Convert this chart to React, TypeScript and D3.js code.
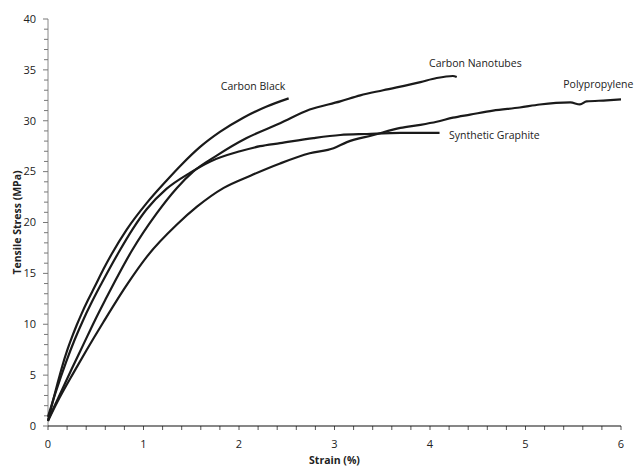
import * as d3 from 'd3';

// strain (%) / tensile stress (MPa)
const carbonBlackX = [0, 0.05, 0.1, 0.15, 0.2, 0.25, 0.3, 0.35, 0.42, 0.49, 0.58, 0.667, 0.824, 1.033, 1.24, 1.4, 1.59, 1.8, 2.045, 2.29, 2.52];
const carbonBlackY = [0.5, 2.4, 4.2, 5.9, 7.4, 8.7, 9.9, 11.0, 12.4, 13.7, 15.4, 16.9, 19.3, 21.9, 24.1, 25.7, 27.4, 28.9, 30.3, 31.4, 32.2];

const graphiteX = [0, 0.08, 0.19, 0.28, 0.363, 0.46, 0.56, 0.736, 0.89, 1.033, 1.24, 1.49, 1.7, 2.01, 2.22, 2.43, 2.78, 3.06, 3.34, 3.69, 4.1];
const graphiteY = [0.9, 3.3, 6.3, 8.5, 10.3, 12.2, 14.0, 17.0, 19.4, 21.3, 23.3, 24.9, 26.0, 27.0, 27.5, 27.8, 28.3, 28.6, 28.7, 28.8, 28.8];

const nanotubesX = [0, 0.1, 0.248, 0.37, 0.492, 0.6, 0.7, 0.876, 1.138, 1.35, 1.52, 1.77, 2.08, 2.43, 2.74, 3.06, 3.27, 3.51, 3.9, 4.07, 4.24, 4.28];
const nanotubesY = [0.6, 2.6, 5.6, 8.0, 10.4, 12.4, 14.2, 17.2, 20.9, 23.4, 25.0, 26.6, 28.3, 29.75, 31.1, 31.9, 32.5, 33.0, 33.8, 34.2, 34.4, 34.3];

const polypropyleneX = [0, 0.1, 0.265, 0.4, 0.579, 0.82, 1.04, 1.35, 1.56, 1.84, 2.12, 2.43, 2.74, 2.99, 3.13, 3.41, 3.69, 3.9, 4.07, 4.24, 4.42, 4.66, 4.94, 5.15, 5.47, 5.57, 5.64, 5.85, 6.0];
const polypropyleneY = [0.5, 2.4, 5.2, 7.4, 10.2, 13.8, 16.7, 19.8, 21.55, 23.4, 24.6, 25.8, 26.8, 27.3, 27.9, 28.6, 29.3, 29.6, 29.9, 30.3, 30.6, 31.0, 31.3, 31.6, 31.8, 31.6, 31.9, 32.0, 32.1];

const seriesNames = ['Carbon Black', 'Synthetic Graphite', 'Carbon Nanotubes', 'Polypropylene'];
// label anchor in data units (strain, stress)
const labelX = [1.81, 4.2, 3.99, 6.13];
const labelY = [33.0, 28.2, 35.3, 33.2];
const labelAnchor = ['start', 'start', 'start', 'end'];

const xTicks = [0, 1, 2, 3, 4, 5, 6];
const yTicks = [0, 5, 10, 15, 20, 25, 30, 35, 40];

const W = 635;
const H = 466;
const margin = { top: 19, right: 14, bottom: 40, left: 48 };
const font = "'Open Sans', 'Noto Sans', sans-serif";

export default function App() {
  const x = d3.scaleLinear().domain([0, 6]).range([margin.left, W - margin.right]);
  const y = d3.scaleLinear().domain([0, 40]).range([H - margin.bottom, margin.top]);

  const series = [
    d3.zip(carbonBlackX, carbonBlackY),
    d3.zip(graphiteX, graphiteY),
    d3.zip(nanotubesX, nanotubesY),
    d3.zip(polypropyleneX, polypropyleneY),
  ];

  const line = d3
    .line<number[]>()
    .x(d => x(d[0]))
    .y(d => y(d[1]))
    .curve(d3.curveMonotoneX);

  const xMinor = d3.range(0, 6.0001, 0.2);
  const yMinor = d3.range(0, 41, 1);
  const x0 = x(0);
  const y0 = y(0);

  return (
    <svg width={W} height={H} style={{ position: 'absolute', left: 0, top: 0, background: '#fff' }} fontFamily={font}>
      {/* y axis */}
      <line x1={x0} x2={x0} y1={y(40)} y2={y0} stroke="#888" strokeWidth={1} />
      {yMinor.map(v => (
        <line key={'ym' + v} x1={x0 - (v % 5 === 0 ? 5 : 4)} x2={x0} y1={y(v)} y2={y(v)} stroke="#777" strokeWidth={1} />
      ))}
      {yTicks.map(v => (
        <text key={'yt' + v} x={x0 - 12} y={y(v)} dy="0.35em" textAnchor="end" fontSize={11} fill="#222">
          {v}
        </text>
      ))}

      {/* x axis */}
      {xMinor.map(v => (
        <line key={'xm' + v} x1={x(v)} x2={x(v)} y1={y0} y2={y0 + 4} stroke="#555" strokeWidth={1} />
      ))}
      <line x1={x0} x2={x(6)} y1={y0} y2={y0} stroke="#111" strokeWidth={1.2} />
      {xTicks.map(v => (
        <text key={'xt' + v} x={x(v)} y={y0 + 22} textAnchor="middle" fontSize={11} fill="#222">
          {v}
        </text>
      ))}

      {/* curves */}
      {series.map((s, i) => (
        <path key={seriesNames[i]} d={line(s) ?? ''} fill="none" stroke="#1a1a1a" strokeWidth={2.2} strokeLinejoin="round" />
      ))}

      {/* curve labels */}
      {seriesNames.map((n, i) => (
        <text key={'lb' + n} x={x(labelX[i])} y={y(labelY[i])} textAnchor={labelAnchor[i]} fontSize={10.5} fill="#222">
          {n}
        </text>
      ))}

      {/* axis titles */}
      <text
        transform={`translate(17,${(y(0) + y(40)) / 2}) rotate(-90)`}
        textAnchor="middle"
        dy="0.35em"
        fontSize={10.5}
        fontWeight="bold"
        fill="#222"
      >
        Tensile Stress (MPa)
      </text>
      <text x={x(3)} y={H - 2} textAnchor="middle" fontSize={10.5} fontWeight="bold" fill="#222">
        Strain (%)
      </text>
    </svg>
  );
}
